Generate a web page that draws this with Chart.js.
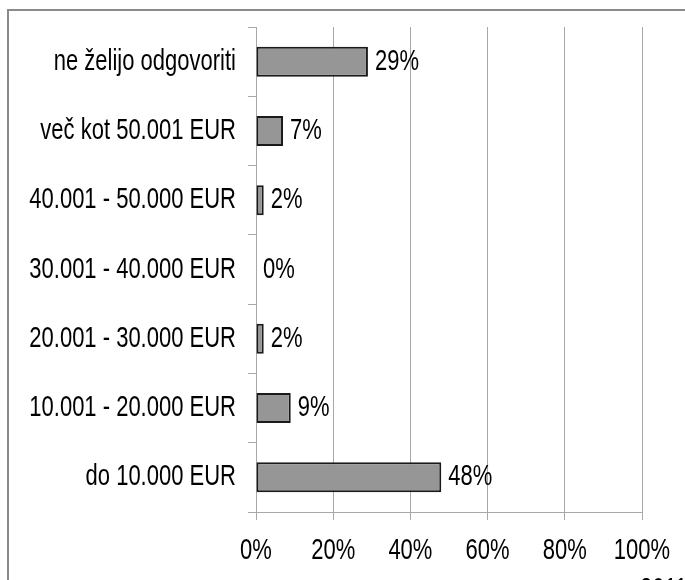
<!DOCTYPE html>
<html lang="sl">
<head>
  <meta charset="utf-8" />
  <title>Dohodek</title>
  <script src="https://cdn.jsdelivr.net/npm/chart.js"></script>
  <style>
    * { box-sizing: border-box; margin: 0; padding: 0; }
    body { background: #fff; width: 685px; height: 580px; overflow: hidden; }
    #wrap { position: relative; width: 685px; height: 580px; }
  </style>
</head>
<body>
  <div id="wrap"><canvas id="chart" width="685" height="580"></canvas></div>

  <script>
    const categories = [
      'ne želijo odgovoriti',
      'več kot 50.001 EUR',
      '40.001 - 50.000 EUR',
      '30.001 - 40.000 EUR',
      '20.001 - 30.000 EUR',
      '10.001 - 20.000 EUR',
      'do 10.000 EUR'
    ];
    const shares = [29, 7, 2, 0, 2, 9, 48];
    const xTicks = [0, 20, 40, 60, 80, 100];

    const FONT = "22px 'Liberation Sans', Arial, sans-serif";
    const STRETCH = 1.33; // the original text is drawn taller than it is wide

    function tallText(ctx, text, x, y, align, baseline) {
      ctx.save();
      ctx.translate(x, y);
      ctx.scale(1, STRETCH);
      ctx.font = FONT;
      ctx.fillStyle = '#000';
      ctx.textAlign = align;
      ctx.textBaseline = baseline || 'middle';
      ctx.fillText(text, 0, 0);
      ctx.restore();
    }

    // grey frame round the chart (only left and top edges are in the picture)
    const framePlugin = {
      id: 'frame',
      beforeDraw(chart) {
        const ctx = chart.ctx;
        ctx.save();
        ctx.strokeStyle = '#8a8a8a';
        ctx.lineWidth = 2;
        ctx.beginPath();
        ctx.moveTo(8, 580);
        ctx.lineTo(8, 10);
        ctx.lineTo(685, 10);
        ctx.stroke();
        ctx.restore();
      }
    };

    // axis labels and value labels, positioned from the chart's scales
    const labelsPlugin = {
      id: 'labels',
      afterDraw(chart) {
        const ctx = chart.ctx;
        const xs = chart.scales.x, ys = chart.scales.y;
        categories.forEach((c, i) => {
          tallText(ctx, c, ys.right - 20, ys.getPixelForTick(i), 'right');
        });
        xTicks.forEach(v => {
          tallText(ctx, v + '%', xs.getPixelForValue(v), xs.top + 39, 'center');
        });
        chart.getDatasetMeta(0).data.forEach((bar, i) => {
          tallText(ctx, shares[i] + '%', bar.x + 7, bar.y, 'left');
        });
        tallText(ctx, '2011', 640, 590, 'left', 'middle');
      }
    };

    new Chart('chart', {
      type: 'bar',
      data: {
        labels: categories,
        datasets: [{
          data: shares,
          backgroundColor: '#969696',
          borderColor: '#1a1a1a',
          borderWidth: 2,
          borderSkipped: false,
          barPercentage: 0.433,
          categoryPercentage: 1
        }]
      },
      options: {
        indexAxis: 'y',
        responsive: false,
        animation: false,
        layout: { padding: { top: 27, right: 43, left: 0, bottom: 0 } },
        plugins: { legend: { display: false }, tooltip: { enabled: false } },
        scales: {
          x: {
            min: 0,
            max: 100,
            afterBuildTicks(scale) { scale.ticks = xTicks.map(v => ({ value: v })); },
            afterFit(scale) { scale.height = 68; },
            grid: { color: '#a8a8a8', lineWidth: 1, tickLength: 8 },
            border: { color: '#a8a8a8', width: 1 },
            ticks: { color: 'rgba(0,0,0,0)', font: { size: 22 }, maxRotation: 0, callback: v => v + '%' }
          },
          y: {
            afterFit(scale) { scale.width = 256; },
            grid: { offset: true, drawOnChartArea: false, color: '#a8a8a8', tickLength: 8 },
            border: { color: '#a8a8a8', width: 1 },
            ticks: { color: 'rgba(0,0,0,0)', font: { size: 22 } }
          }
        }
      },
      plugins: [framePlugin, labelsPlugin]
    });
  </script>
</body>
</html>
